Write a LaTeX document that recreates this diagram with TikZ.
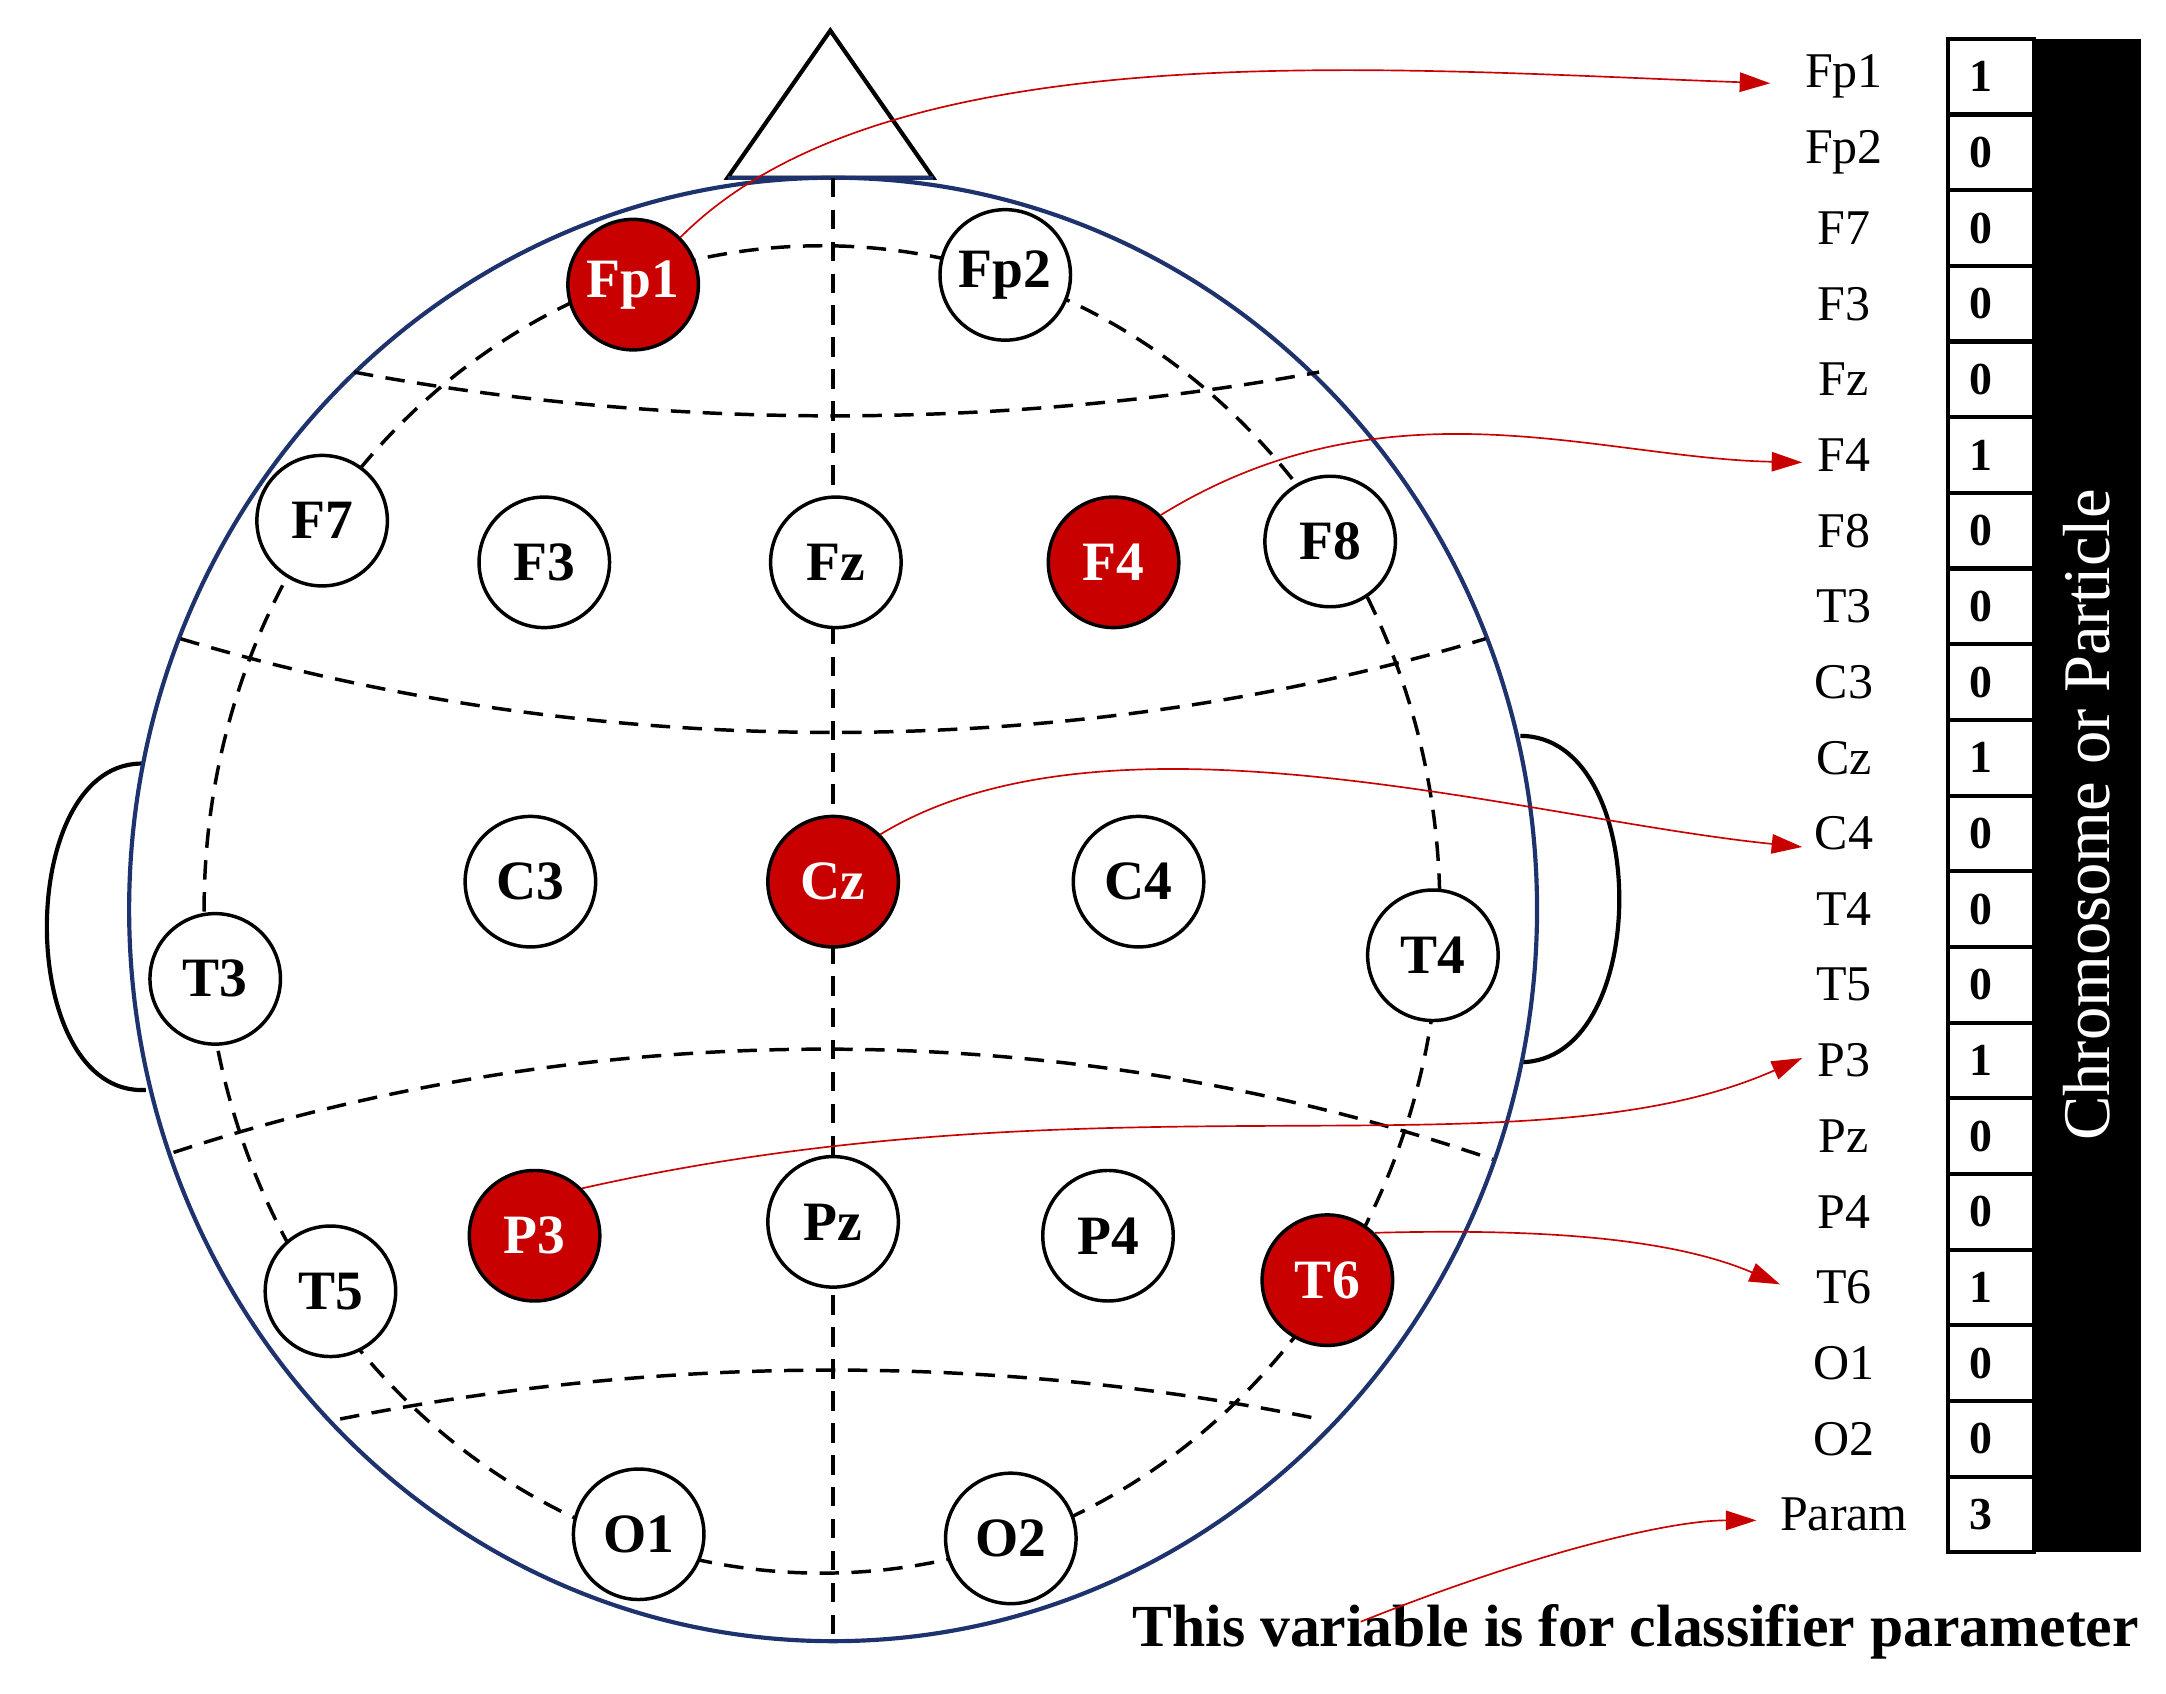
\documentclass[tikz,border=0pt]{standalone}
\usepackage{fontspec}
\setmainfont{Liberation Serif}
\usetikzlibrary{arrows.meta}
\definecolor{headblue}{RGB}{30,50,110}
\definecolor{ered}{RGB}{200,0,0}
\begin{document}
\begin{tikzpicture}[x=1pt,y=-1pt,
 el/.style={circle,draw=black,line width=2.5pt,minimum size=94pt,inner sep=0pt,font=\fontsize{40}{40}\selectfont\bfseries,fill=white},
 red/.style={fill=ered,text=white},
 dsh/.style={line width=2.5pt,dash pattern=on 14pt off 9pt},
 lab/.style={anchor=center,font=\fontsize{36}{36}\selectfont},
 cell/.style={draw=black,line width=3pt,minimum width=62pt,minimum height=54.5pt,inner sep=0pt},
 arr/.style={draw=ered,line width=1.2pt,-{Triangle[length=22pt,width=14pt]}}]
\useasboundingbox (0,0) rectangle (1560,1220);
% ears
\draw[line width=3pt] (105,550) .. controls (10,545) and (10,790) .. (105,785);
\draw[line width=3pt] (1095,530) .. controls (1190,530) and (1190,765) .. (1095,765);
% nose
\draw[line width=3pt,fill=white] (524,128) -- (598,22) -- (672,128) -- cycle;
% head
\draw[headblue,line width=3pt,fill=white] (600,655) ellipse [x radius=507,y radius=527];
\draw[headblue,line width=3pt] (524,128)--(672,128);
% dashed
\draw[dsh] (600,128) -- (600,1185);
\draw[dsh] (592,655) ellipse [x radius=445,y radius=478];
\draw[dsh] (255,268) .. controls (480,310) and (720,310) .. (950,268);
\draw[dsh] (130,460) .. controls (430,550) and (770,550) .. (1070,460);
\draw[dsh] (125,830) .. controls (430,730) and (770,730) .. (1075,835);
\draw[dsh] (245,1022) .. controls (480,975) and (720,975) .. (950,1022);
% electrodes
\node[el,red] (Fp1) at (456,205) {Fp1};
\node[el] (Fp2) at (724,198) {Fp2};
\node[el] (F7) at (232,375) {F7};
\node[el] (F3) at (392,405) {F3};
\node[el] (Fz) at (602,405) {Fz};
\node[el,red] (F4) at (802,405) {F4};
\node[el] (F8) at (958,390) {F8};
\node[el] (C3) at (382,635) {C3};
\node[el,red] (Cz) at (600,635) {Cz};
\node[el] (C4) at (820,635) {C4};
\node[el] (T4) at (1032,688) {T4};
\node[el] (T3) at (155,705) {T3};
\node[el,red] (P3) at (385,890) {P3};
\node[el] (Pz) at (600,880) {Pz};
\node[el] (P4) at (798,890) {P4};
\node[el,red] (T6) at (956,922) {T6};
\node[el] (T5) at (238,930) {T5};
\node[el] (O1) at (460,1105) {O1};
\node[el] (O2) at (728,1108) {O2};
% table
\fill[black] (1465,28) rectangle (1542,1118);
\node[white,rotate=90,font=\fontsize{48}{48}\selectfont] (ch) at (1503,587) {Chromosome or Particle};
\foreach \n/\v [count=\i from 0] in {Fp1/1,Fp2/0,F7/0,F3/0,Fz/0,F4/1,F8/0,T3/0,C3/0,Cz/1,C4/0,T4/0,T5/0,P3/1,Pz/0,P4/0,T6/1,O1/0,O2/0,Param/3}{
  \node[cell,fill=white] (c\i) at (1434,{55.25+54.5*\i}) {};
  \node[anchor=west,inner sep=0pt,font=\fontsize{33}{33}\selectfont\bfseries] (v\i) at (1418,{55.25+54.5*\i}) {\v};
  \node[lab] (l\i) at (1328,{55.25+54.5*\i}) {\n};
}
\node[font=\fontsize{43}{43}\selectfont\bfseries] (note) at (1178,1175) {This variable is for classifier parameter};
\coordinate (a0) at (1275,60);
\coordinate (a5) at (1298,333);
\coordinate (a10) at (1298,610);
\coordinate (a13) at (1298,762);
\coordinate (a16) at (1282,925);
\coordinate (a19) at (1265,1095);
\coordinate (n0) at (980,1168);
\draw[arr] (Fp1.north east) .. controls (640,20) and (1000,50) .. (a0);
\draw[arr] (F4.north east) .. controls (1000,270) and (1150,330) .. (a5);
\draw[arr] (Cz.north east) .. controls (800,500) and (1100,590) .. (a10);
\draw[arr] (P3.north east) .. controls (800,770) and (1100,850) .. (a13);
\draw[arr] (T6.north east) .. controls (1100,885) and (1200,890) .. (a16);
\draw[arr] (n0) .. controls (1100,1120) and (1200,1095) .. (a19);
\end{tikzpicture}
\end{document}
